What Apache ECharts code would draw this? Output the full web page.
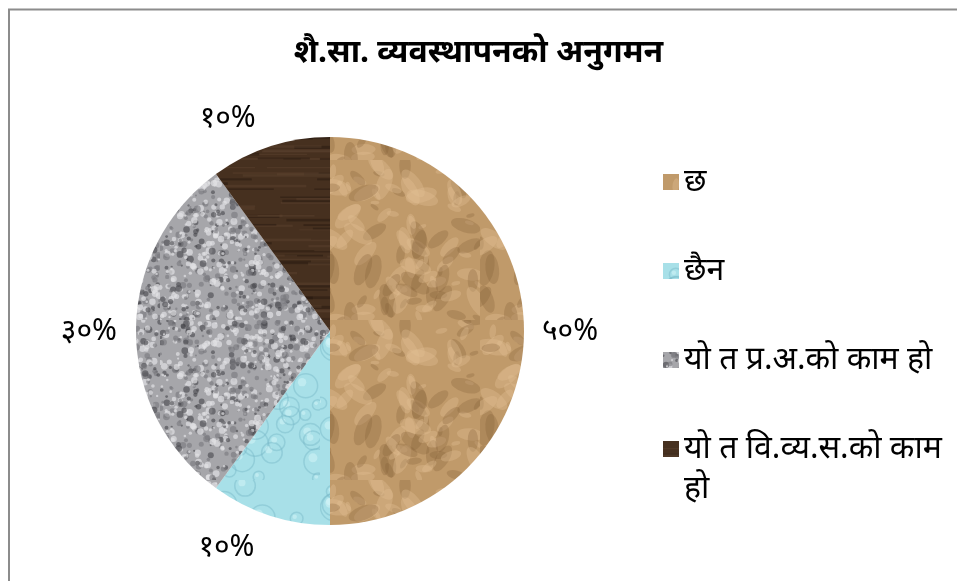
<!DOCTYPE html>
<html>
<head>
<meta charset="utf-8">
<script src="https://cdn.jsdelivr.net/npm/echarts@6/dist/echarts.min.js"></script>
<style>
html,body{margin:0;padding:0;background:#fff;}
#c{width:957px;height:581px;}
</style>
</head>
<body>
<div id="c"></div>
<script>
var titleText = 'शै.सा. व्यवस्थापनको अनुगमन';
var categories = ['छ', 'छैन', 'यो त प्र.अ.को काम हो', 'यो त वि.व्य.स.को काम हो'];
var values = [50, 10, 30, 10];
var valueLabels = ['५०%', '१०%', '३०%', '१०%'];

var FONT = '"Noto Sans", "DejaVu Sans", sans-serif';
var lineLengths = [13, 34, 14, 30];

// deterministic texture helper (style only)
function hash(n) { var s = Math.sin(n * 12.9898 + 78.233) * 43758.5453; return s - Math.floor(s); }
function makeTexture(kind) {
  var cv = document.createElement('canvas');
  cv.width = 160; cv.height = 160;
  var g = cv.getContext('2d');
  var i;
  if (kind === 'paper') {
    g.fillStyle = '#c09a6a'; g.fillRect(0, 0, 160, 160);
    for (i = 0; i < 120; i++) {
      var x = hash(i) * 160, y = hash(i + 500) * 160, r = 4 + hash(i + 900) * 14;
      g.fillStyle = hash(i + 1300) > 0.5 ? 'rgba(225,192,148,0.35)' : 'rgba(130,95,55,0.28)';
      g.beginPath(); g.ellipse(x, y, r, r * 0.45, hash(i + 1700) * 3.14, 0, 6.283); g.fill();
    }
  } else if (kind === 'water') {
    g.fillStyle = '#a8e0e8'; g.fillRect(0, 0, 160, 160);
    for (i = 0; i < 40; i++) {
      var bx = hash(i + 40) * 160, by = hash(i + 540) * 160, br = 4 + hash(i + 940) * 10;
      g.strokeStyle = 'rgba(120,185,200,0.45)'; g.lineWidth = 1.5;
      g.beginPath(); g.arc(bx, by, br, 0, 6.283); g.stroke();
      g.fillStyle = 'rgba(220,248,250,0.45)';
      g.beginPath(); g.arc(bx - br * 0.3, by - br * 0.3, br * 0.35, 0, 6.283); g.fill();
    }
  } else if (kind === 'granite') {
    g.fillStyle = '#a6a6aa'; g.fillRect(0, 0, 160, 160);
    for (i = 0; i < 900; i++) {
      var gx = hash(i + 70) * 160, gy = hash(i + 3070) * 160, gr = 1 + hash(i + 6070) * 2.5;
      var t = hash(i + 9070);
      g.fillStyle = t > 0.55 ? 'rgba(225,225,228,0.7)' : (t > 0.25 ? 'rgba(120,120,125,0.6)' : 'rgba(70,70,75,0.6)');
      g.beginPath(); g.arc(gx, gy, gr, 0, 6.283); g.fill();
    }
  } else {
    g.fillStyle = '#46301f'; g.fillRect(0, 0, 160, 160);
    for (i = 0; i < 60; i++) {
      var wy = hash(i + 11) * 160, wl = 30 + hash(i + 211) * 120, wx = hash(i + 411) * 160;
      g.fillStyle = hash(i + 611) > 0.5 ? 'rgba(95,70,50,0.4)' : 'rgba(35,22,14,0.45)';
      g.fillRect(wx, wy, wl, 1 + hash(i + 811) * 2);
      g.fillRect(wx - 160, wy, wl, 1 + hash(i + 811) * 2);
    }
  }
  return { image: cv, repeat: 'repeat' };
}
var sliceTextures = ['paper', 'water', 'granite', 'wood'];

var chart = echarts.init(document.getElementById('c'));
var seriesData = categories.map(function (name, i) {
  return {
    name: name,
    value: values[i],
    itemStyle: { color: makeTexture(sliceTextures[i]) },
    label: { formatter: valueLabels[i] },
    labelLine: { length: lineLengths[i], length2: 0 }
  };
});
var legendText = { fontFamily: FONT, fontSize: 32, color: '#000', lineHeight: 40 };
chart.setOption({
  animation: false,
  backgroundColor: '#fff',
  graphic: [{
    type: 'rect',
    shape: { x: 9, y: 9.5, width: 1000, height: 700 },
    style: { fill: 'none', stroke: '#8c8c8c', lineWidth: 2 },
    silent: true
  }],
  title: {
    text: titleText,
    left: 'center',
    top: 32,
    textStyle: { fontFamily: FONT, fontSize: 32, fontWeight: 'bold', color: '#000' }
  },
  legend: [{
    orient: 'vertical',
    left: 658,
    top: 157,
    height: 400,
    itemWidth: 16,
    itemHeight: 16,
    itemGap: 49,
    icon: 'rect',
    data: categories.slice(0, 3),
    textStyle: legendText
  }, {
    orient: 'vertical',
    left: 658,
    top: 384,
    height: 190,
    itemWidth: 16,
    itemHeight: 16,
    icon: 'rect',
    data: categories.slice(3),
    formatter: function (name) {
      var k = name.lastIndexOf(' ');
      return '\n' + name.slice(0, k) + '\n' + name.slice(k + 1);
    },
    textStyle: legendText
  }],
  series: [{
    type: 'pie',
    center: [330, 331],
    radius: 194,
    startAngle: 90,
    clockwise: true,
    data: seriesData,
    label: {
      show: true,
      position: 'outside',
      fontFamily: FONT,
      fontSize: 30,
      color: '#000',
      distanceToLabelLine: 5
    },
    labelLine: { show: false },
    emphasis: { disabled: true }
  }]
});
</script>
</body>
</html>
